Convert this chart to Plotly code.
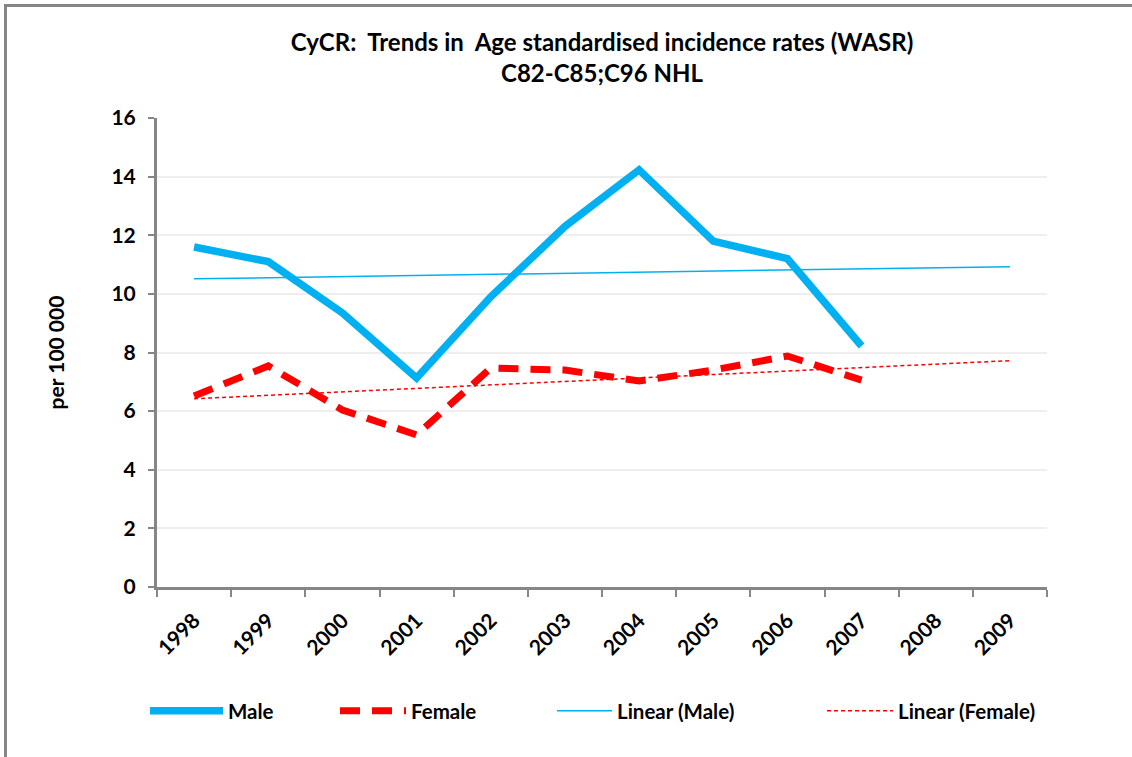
import numpy as np
import plotly.graph_objects as go

# Category axis and series values (per 100 000)
years = ["1998", "1999", "2000", "2001", "2002", "2003",
         "2004", "2005", "2006", "2007", "2008", "2009"]
male = [11.6, 11.1, 9.35, 7.13, 9.9, 12.3, 14.23, 11.8, 11.2, 8.22]
female = [6.52, 7.54, 6.04, 5.19, 7.47, 7.4, 7.03, 7.4, 7.88, 7.06]
y_ticks = [0, 2, 4, 6, 8, 10, 12, 14, 16]

FONT = "Lato, 'Open Sans', sans-serif"
BLUE = "#00b0f0"
RED = "#ff0000"

# Least-squares linear trend over the observed years, extended to 2009
def trend(values):
    xs = np.arange(len(values))
    slope, intercept = np.polyfit(xs, values, 1)
    full = np.arange(len(years))
    return list(intercept + slope * full)

male_trend = trend(male)
female_trend = trend(female)

fig = go.Figure()
fig.add_trace(go.Scatter(
    x=years[:len(male)], y=male, mode="lines", name="Male",
    line=dict(color=BLUE, width=7.5), legend="legend"))
fig.add_trace(go.Scatter(
    x=years[:len(female)], y=female, mode="lines", name="Female",
    line=dict(color=RED, width=7, dash="20px,12px"), legend="legend2"))
fig.add_trace(go.Scatter(
    x=years, y=male_trend, mode="lines", name="Linear (Male)",
    line=dict(color=BLUE, width=1.5), legend="legend3"))
fig.add_trace(go.Scatter(
    x=years, y=female_trend, mode="lines", name="Linear (Female)",
    line=dict(color=RED, width=1.5, dash="4px,3px"), legend="legend4"))

W, H = 1132, 757
L, R, T, B = 157, 85, 118, 170
pw, ph = W - L - R, H - T - B

def px_x(p):
    return (p - L) / pw

def px_y(p):
    return (H - B - p) / ph

legend_font = dict(family=FONT, size=20.5, color="black", weight="bold")

def legend_at(px, item_w):
    return dict(x=px_x(px), y=px_y(711), xanchor="left", yanchor="middle",
                orientation="h", font=legend_font, itemwidth=item_w,
                bgcolor="rgba(0,0,0,0)", borderwidth=0)

tick_font = dict(family=FONT, size=21, color="black", weight="bold")

fig.update_layout(
    width=W, height=H,
    margin=dict(l=L, r=R, t=T, b=B),
    paper_bgcolor="white", plot_bgcolor="white",
    font=dict(family=FONT, color="black"),
    title=dict(
        text="CyCR:  Trends in  Age standardised incidence rates (WASR)<br>C82-C85;C96 NHL",
        x=0.5, xref="paper", xanchor="center",
        y=1 - 51 / H, yanchor="middle",
        font=dict(family=FONT, size=24, color="black", weight="bold")),
    showlegend=True,
    legend=legend_at(145, 73),
    legend2=legend_at(335, 66),
    legend3=legend_at(552, 55),
    legend4=legend_at(822, 66),
    xaxis=dict(
        type="category", categoryorder="array", categoryarray=years,
        range=[-0.5, len(years) - 0.5],
        tickson="boundaries", ticks="outside", ticklen=7, tickwidth=2,
        tickcolor="#868686", showline=True, linecolor="#868686", linewidth=3,
        showgrid=False, tickangle=-45, ticklabelstandoff=10,
        tickfont=tick_font),
    yaxis=dict(
        range=[0, 16], tickvals=y_ticks, ticks="outside", ticklen=6,
        tickwidth=2, tickcolor="#868686", showline=True,
        linecolor="#868686", linewidth=3, showgrid=True,
        gridcolor="#eeeeee", gridwidth=2, zeroline=False,
        ticklabelstandoff=8,
        tickfont=tick_font,
        title=dict(text="per 100 000", standoff=42,
                   font=dict(family=FONT, size=21, color="black", weight="bold"))),
)

# Chart-area frame (top and left edges are visible)
fig.add_shape(type="rect", xref="paper", yref="paper",
              x0=px_x(5.5), x1=px_x(W + 10), y0=px_y(H + 10), y1=px_y(5.5),
              line=dict(color="#868686", width=3), layer="below")

fig.write_html("out.html")
